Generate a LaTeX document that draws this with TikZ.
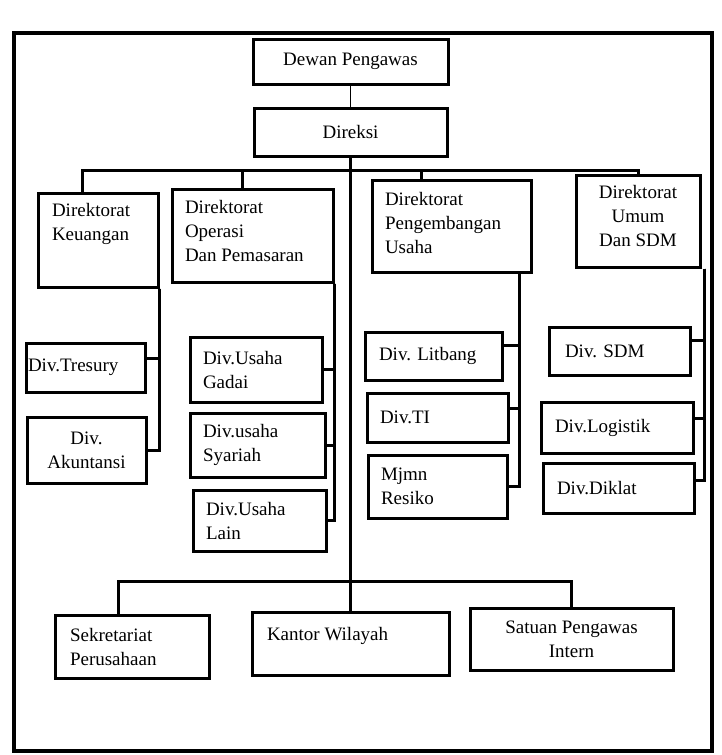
\documentclass[tikz,border=0pt]{standalone}
\usepackage{fontspec}
\setmainfont{Liberation Serif}
\usepackage{tikz}
\tikzset{unit/.style={rectangle,draw,line width=3pt,inner sep=0pt,font=\fontsize{19}{24}\selectfont},
         lft/.style={text width=#1,align=left},
         link/.style={line width=3pt}}
\newcommand{\toptext}[3]{\parbox[c][#2pt][t]{#1pt}{#3}}
\frenchspacing

\begin{document}
\begin{tikzpicture}[x=1pt,y=-1pt]
    \useasboundingbox (0,0) rectangle (721,755);
    \draw [line width=4.5pt] (14,33) rectangle (712,751);

    \node[unit,minimum width=195,minimum height=45] (dp) at (350.5,61.5) {Dewan Pengawas};
    \node[unit,minimum width=193,minimum height=48] (dir) at (350.5,132) {Direksi};

    \node[unit,minimum width=120,minimum height=94] (dk) at (98,240) {\toptext{92}{74}{Direktorat\\Keuangan}};
    \node[unit,minimum width=161,minimum height=93] (dop) at (252.5,235.5) {\toptext{135}{71}{Direktorat\\Operasi\\Dan Pemasaran}};
    \node[unit,minimum width=159,minimum height=92] (dpu) at (451.5,226) {\toptext{133}{68}{Direktorat\\Pengembangan\\Usaha}};
    \node[unit,minimum width=124,minimum height=92] (dum) at (638,221) {\toptext{116}{72}{\centering Direktorat\\Umum\\Dan SDM}};

    \node[unit,lft=115,minimum width=119,minimum height=49] (tres) at (85.5,367.5) {Div.Tresury};
    \node[unit,align=center,minimum width=119,minimum height=66] (akun) at (86.5,450) {Div.\\Akuntansi};

    \node[unit,lft=106,minimum width=132,minimum height=65] (gad) at (256,369.5) {Div.Usaha\\Gadai};
    \node[unit,lft=109,minimum width=135,minimum height=64] (sya) at (257.5,445) {Div.usaha\\Syariah};
    \node[unit,lft=107,minimum width=133,minimum height=61] (lai) at (259.5,520.5) {Div.Usaha\\Lain};

    \node[unit,lft=109,minimum width=137,minimum height=48] (lit) at (433.5,356) {Div. Litbang};
    \node[unit,lft=115,minimum width=141,minimum height=49] (ti) at (437.5,417.5) {Div.TI};
    \node[unit,lft=113,minimum width=139,minimum height=63] (mjm) at (437.5,486.5) {Mjmn\\Resiko};

    \node[unit,lft=109,minimum width=141,minimum height=48] (sdm) at (619.5,351) {Div. SDM};
    \node[unit,lft=124,minimum width=152,minimum height=51] (logi) at (617,427.5) {Div.Logistik};
    \node[unit,lft=123,minimum width=151,minimum height=50] (dik) at (618.5,488) {Div.Diklat};

    \node[unit,lft=124,minimum width=154,minimum height=63] (sek) at (132,646.5) {Sekretariat\\Perusahaan};
    \node[unit,minimum width=197,minimum height=63] (kan) at (350.5,643.5) {\toptext{167}{33}{Kantor Wilayah}};
    \node[unit,align=center,minimum width=203,minimum height=62] (sat) at (571.5,639) {Satuan Pengawas\\Intern};

    \coordinate (tbus) at (350.5,170);
    \coordinate (bbus) at (350.5,581);

    \draw [line width=1.8pt] (dp) -- (dir);
    \draw [link] (dir) -- (kan);
    \draw [link] ([xshift=-16pt]dk.north) |- (tbus) -| (dum.north);
    \draw [link] ([xshift=-10pt]dop.north) |- (tbus);
    \draw [link] ([xshift=-30pt]dpu.north) |- (tbus);
    \draw [link] ([xshift=-14pt]sek.north) |- (bbus) -| (sat.north);

    \draw [link] (dk.south east) |- ([yshift=9pt]tres.east);
    \draw [link] (dk.south east) |- (akun);
    \draw [link] (dop.south east) |- (gad);
    \draw [link] (dop.south east) |- (sya);
    \draw [link] (dop.south east) |- (lai);
    \draw [link] ([xshift=-13pt]dpu.south east) |- ([yshift=11pt]lit.east);
    \draw [link] ([xshift=-13pt]dpu.south east) |- ([yshift=9pt]ti.east);
    \draw [link] ([xshift=-13pt]dpu.south east) |- (mjm);
    \draw [link] ([xshift=3pt]dum.south east) |- ([yshift=11pt]sdm.east);
    \draw [link] ([xshift=3pt]dum.south east) |- ([yshift=9pt]logi.east);
    \draw [link] ([xshift=3pt]dum.south east) |- ([yshift=8pt]dik.east);
\end{tikzpicture}
\end{document}
